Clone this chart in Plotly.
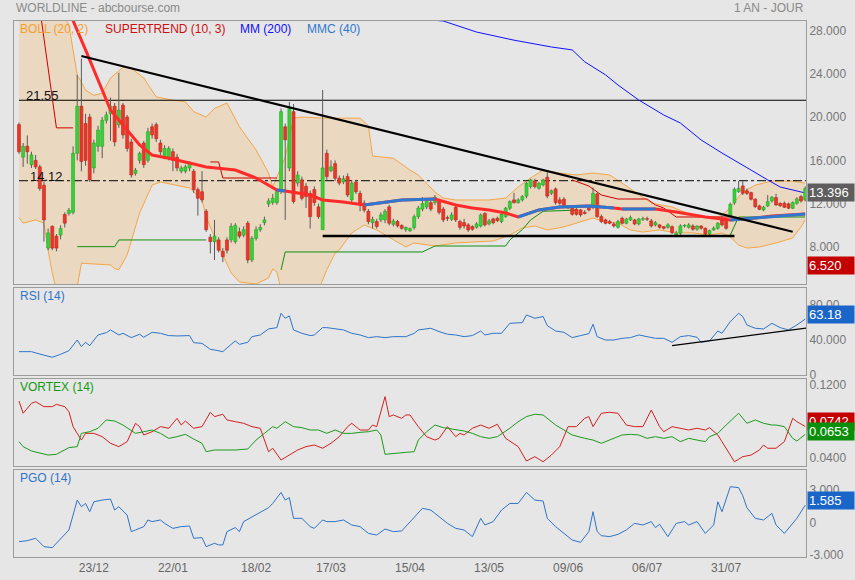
import plotly.graph_objects as go
from plotly.subplots import make_subplots

# daily candles
opens = [
    19.3, 16.3, 17.3, 15.6, 16.0, 15.4, 13.7, 7.9, 9.9, 9.0,
    9.1, 11.0, 11.1, 11.2, 16.65, 21.0, 19.4, 20.0, 15.3, 17.3,
    17.3, 19.7, 20.3, 21.0, 19.3, 21.1, 20.0, 17.7, 14.8, 16.0,
    17.6, 16.0, 19.1, 19.3, 17.6, 16.3, 16.3, 16.8, 16.3, 15.0,
    15.0, 15.3, 15.0, 13.3, 13.1, 11.3, 8.9,
    8.5, 8.65, 7.6, 8.65, 8.65, 8.5, 9.4, 9.1, 10.2, 6.8,
    8.8, 9.6, 10.25, 11.97, 12.1, 12.1, 13.1, 19.1, 15.3, 20.5,
    13.9, 14.2, 13.6, 12.95, 13.3, 11.7, 9.6, 16.65, 15.05, 15.7,
    14.35, 14.0, 14.5, 12.35, 14.0, 12.95, 12.05, 11.3, 10.25, 10.35,
    10.5, 10.5, 11.7, 10.1, 10.35, 9.98, 9.6, 9.5, 9.8,
    10.8, 11.5, 11.7, 12.1, 12.1, 12.2, 11.5, 10.7, 10.56, 11.67,
    10.35, 10.25, 10.04, 9.88, 9.82, 9.94, 11.1, 10.13, 10.59, 10.65,
    10.35, 10.81, 11.58, 12.35, 12.1, 12.35, 12.7, 13.58, 14.1, 13.42,
    13.73, 14.44, 12.96, 13.36, 12.35, 12.41, 11.6, 11.58, 11.48, 11.42,
    11.2, 11.58, 11.67, 12.9, 10.81, 10.5,
    10.35, 10.13, 9.82, 10.65, 10.19, 10.5, 10.5, 10.13, 10.56, 10.6,
    10.41, 10.04, 10.04, 9.88, 9.82, 9.88, 9.12, 9.27, 9.94, 9.82,
    9.94, 9.64, 9.94, 9.73, 9.21, 9.58, 9.73, 10.5, 10.5, 10.81,
    12.1, 13.11, 13.64, 13.18, 13.02, 12.41, 11.79, 11.42, 11.79, 12.25,
    12.56, 12.04, 12.04, 11.98, 11.58, 12.04, 12.65, 12.35,
]
closes = [
    16.8, 17.3, 16.8, 16.5, 15.4, 13.4, 10.5, 9.3, 7.9, 7.9,
    9.7, 10.2, 11.4, 16.65, 21.0, 15.9, 16.0, 14.2, 17.6, 18.8,
    19.7, 20.2, 21.0, 17.7, 20.65, 18.35, 17.1, 14.65, 15.1, 16.65,
    15.6, 18.65, 18.35, 18.0, 16.8, 17.1, 17.1, 16.0, 15.3, 15.3,
    15.4, 15.7, 13.3, 12.5, 12.35, 9.6, 8.5,
    9.0, 7.7, 7.1, 7.7, 9.9, 10.0, 9.0, 9.6, 6.8, 8.8,
    9.6, 9.8, 10.5, 12.25, 12.5, 13.1, 20.5, 17.9, 20.8, 12.2,
    14.65, 12.5, 12.65, 10.8, 12.1, 10.8, 15.3, 14.5, 15.4, 14.35,
    13.9, 14.3, 12.8, 13.9, 13.1, 12.05, 11.4, 10.35, 10.55, 9.9,
    10.96, 11.3, 10.2, 10.4, 9.95, 9.73, 9.8, 9.7, 10.8,
    11.6, 12.0, 12.3, 11.5, 12.6, 11.2, 10.5, 10.65, 10.96, 10.5,
    9.82, 9.94, 9.58, 9.64, 10.13, 10.96, 10.04, 10.41, 10.25, 10.44,
    11.02, 11.58, 12.19, 12.1, 12.35, 12.65, 13.88, 14.19, 13.58, 13.88,
    14.19, 12.7, 13.2, 12.1, 12.04, 11.79, 11.67, 11.02, 11.02, 10.96,
    11.1, 11.42, 12.96, 10.81, 10.35, 10.19,
    10.19, 9.94, 10.35, 10.19, 10.56, 10.71, 10.13, 10.59, 10.6, 10.56,
    9.94, 10.25, 9.82, 9.73, 10.04, 9.33, 9.27, 9.94, 9.96, 10.04,
    9.64, 9.94, 9.73, 9.21, 9.52, 9.73, 10.19, 10.04, 9.73, 11.95,
    13.33, 13.42, 12.96, 12.96, 12.41, 11.73, 11.48, 11.67, 12.19, 12.59,
    11.88, 11.82, 11.67, 11.58, 12.1, 12.44, 12.25, 13.396,
]
highs = [
    19.5, 17.6, 18.3, 16.8, 16.5, 15.6, 14.0, 9.7, 10.0, 9.2,
    10.0, 11.2, 11.6, 17.3, 23.9, 25.4, 20.3, 20.3, 17.9, 19.2,
    20.0, 20.5, 21.8, 21.3, 24.1, 21.3, 20.2, 18.0, 15.3, 16.8,
    17.8, 19.0, 19.4, 19.5, 17.9, 17.4, 17.3, 17.1, 16.6, 15.5,
    15.6, 15.9, 15.2, 13.5, 15.0, 11.5, 9.2,
    10.5, 8.9, 7.9, 8.9, 10.2, 10.2, 9.8, 9.9, 10.4, 9.0,
    9.9, 10.1, 10.8, 12.5, 12.9, 13.4, 20.8, 19.4, 21.4, 21.2,
    15.0, 14.5, 13.9, 13.2, 13.6, 12.0, 22.5, 17.0, 16.0, 16.0,
    14.6, 14.6, 14.8, 14.2, 14.2, 13.2, 12.3, 11.5, 10.8, 10.6,
    11.2, 11.5, 11.9, 10.6, 10.5, 10.1, 9.9, 9.8, 11.0,
    11.8, 12.6, 12.5, 12.3, 12.8, 12.4, 11.7, 10.9, 11.2, 11.9,
    10.5, 10.6, 10.2, 10.0, 10.3, 11.1, 11.2, 10.6, 10.7, 10.8,
    11.2, 11.7, 12.3, 13.0, 12.5, 12.8, 14.0, 14.3, 14.3, 14.0,
    14.3, 14.9, 13.3, 13.5, 12.6, 12.6, 11.8, 11.7, 11.6, 11.5,
    11.4, 11.7, 13.5, 13.0, 11.0, 10.6,
    10.5, 10.3, 10.5, 10.8, 10.7, 10.9, 10.6, 10.7, 10.8, 10.8,
    10.6, 10.4, 10.1, 9.9, 10.2, 10.0, 9.5, 10.1, 10.1, 10.2,
    10.1, 10.0, 10.0, 9.8, 9.6, 9.9, 10.3, 10.9, 10.6, 12.1,
    13.5, 14.1, 14.1, 13.4, 13.1, 12.5, 11.9, 11.8, 12.8, 12.7,
    12.9, 12.1, 12.2, 12.1, 12.2, 12.6, 12.8, 13.6,
]
lows = [
    16.6, 15.4, 15.7, 15.3, 15.2, 13.2, 8.5, 7.7, 7.7, 7.6,
    8.7, 9.8, 10.9, 11.0, 16.0, 15.0, 15.5, 14.0, 14.8, 16.8,
    16.2, 19.4, 17.8, 17.3, 19.0, 18.0, 16.8, 14.4, 14.6, 15.7,
    15.3, 15.8, 18.0, 17.7, 16.5, 16.1, 16.0, 15.0, 15.0, 14.8,
    14.8, 15.0, 13.0, 10.9, 12.1, 9.4, 7.4,
    6.8, 7.5, 6.6, 7.4, 8.4, 8.3, 8.8, 8.9, 6.5, 6.6,
    8.6, 9.4, 10.0, 11.7, 11.9, 11.9, 12.9, 10.5, 15.0, 12.0,
    13.6, 12.3, 11.6, 9.7, 11.8, 10.6, 9.6, 14.2, 14.9, 14.1,
    13.7, 13.8, 12.6, 12.1, 12.9, 11.3, 11.2, 10.1, 9.7, 9.7,
    10.3, 10.2, 10.0, 9.9, 9.8, 9.6, 9.4, 9.4, 9.6,
    10.6, 11.3, 11.5, 11.3, 11.9, 11.0, 10.3, 10.4, 10.4, 10.3,
    9.6, 9.7, 9.4, 9.5, 9.7, 9.8, 9.9, 10.0, 10.1, 10.3,
    10.2, 10.7, 11.4, 12.0, 12.0, 12.2, 12.5, 13.4, 13.4, 13.3,
    13.6, 12.5, 12.8, 11.9, 11.9, 11.6, 11.5, 10.9, 10.9, 10.8,
    11.0, 11.3, 11.5, 10.7, 10.2, 10.1,
    10.1, 9.8, 9.7, 10.1, 10.1, 10.4, 10.0, 10.0, 10.4, 10.4,
    9.8, 9.9, 9.7, 9.6, 9.7, 9.2, 8.9, 9.1, 9.8, 9.7,
    9.5, 9.5, 9.6, 9.1, 9.1, 9.5, 9.6, 9.9, 9.6, 10.7,
    11.9, 13.0, 12.8, 12.8, 12.3, 11.6, 11.4, 11.3, 11.7, 12.1,
    11.8, 11.7, 11.6, 11.5, 11.5, 11.9, 12.1, 12.2,
]

tick_pos = [18, 37, 57, 75, 94, 113, 132, 151, 170]
tick_labels = ["23/12", "22/01", "18/02", "17/03", "15/04", "13/05", "09/06", "06/07", "31/07"]

# Bollinger (20, 2)
boll_up_x = [0, 10, 12, 14, 16, 18, 20, 22, 25, 27, 30, 33, 37, 40, 42, 45, 47, 50, 53, 57,
             60, 61, 64, 66, 68, 73, 82, 84, 85, 90, 94, 96, 100, 102, 105, 113, 117, 120, 123,
             126, 130, 134, 138, 142, 145, 148, 152, 157, 163, 168, 170, 172, 174, 177, 181, 186, 189]
boll_up_y = [33.0, 30.0, 28.5, 23.9, 22.5, 22.0, 22.2, 23.6, 24.6, 24.5, 23.6, 21.85, 21.57, 21.4,
             20.5, 20.0, 20.8, 21.3, 19.1, 16.96, 14.83, 13.54, 16.3, 19.9, 20.0, 19.9, 19.9, 19.2,
             16.4, 16.2, 15.1, 14.65, 13.08, 12.52, 12.34, 12.34, 12.52, 13.54, 14.37, 15.1, 14.83,
             14.65, 14.83, 14.65, 13.9, 13.08, 12.06, 11.69, 10.77, 10.77, 11.23, 12.16, 13.08,
             13.72, 14.09, 14.09, 13.9]
boll_lo_x = [0, 1, 4, 6, 7, 8, 9, 11, 14, 15, 22, 23, 24, 25, 26, 29, 32, 34, 38, 41, 44, 45, 48,
             49, 51, 53, 57, 60, 61, 62, 63, 68, 72, 74, 76, 77, 80, 83, 86, 90, 93, 95, 100, 105,
             109, 114, 118, 121, 124, 127, 131, 135, 138, 141, 144, 147, 150, 154, 158, 162, 166,
             169, 171, 173, 175, 178, 182, 186, 188, 189]
boll_lo_y = [10.7, 10.2, 10.5, 10.2, 7.72, 5.6, 4.0, 3.5, 4.3, 6.5, 6.34, 6.0, 5.9, 6.6, 7.26, 11.14,
             13.72, 14.0, 13.72, 13.45, 12.34, 10.77, 8.0, 7.26, 5.6, 4.77, 4.58, 5.14, 5.97, 5.7,
             4.0, 3.5, 4.0, 5.9, 7.45, 7.72, 9.3, 10.03, 9.57, 8.65, 8.0, 8.37, 8.09, 8.37, 8.46,
             8.55, 9.1, 9.75, 9.94, 9.57, 9.85, 10.3, 10.68, 10.3, 10.2, 9.57, 9.38, 9.57, 9.3, 9.3,
             9.1, 9.3, 8.92, 8.18, 7.9, 8.0, 8.37, 8.83, 9.85, 10.5]

# MM (200)
mm200_x = [93, 99, 102, 110, 119, 128, 133, 136, 141, 144, 149, 155, 159, 164, 169, 172, 176, 180, 183, 189]
mm200_y = [29.4, 28.96, 28.87, 27.85, 27.1, 26.47, 26.2, 25.1, 23.9, 22.96, 21.57, 20.19, 19.45,
           17.88, 16.68, 16.03, 15.1, 14.19, 13.54, 12.99]

# MMC (40), drawn red when falling, blue when rising
mmc_x = [11, 13, 16, 19, 22, 25, 29, 32, 36, 41, 45, 52, 57, 62, 64, 70, 73, 78, 83, 92, 100, 105,
         109, 113, 117, 120, 125, 130, 137, 143, 145, 153, 158, 165, 171, 177, 181, 189]
mmc_y = [30.5, 28.9, 26.2, 23.4, 20.65, 19.26, 17.42, 16.49, 16.2, 15.76, 15.39, 15.11, 14.37, 13.26,
         13.17, 12.8, 12.34, 12.16, 11.88, 12.34, 12.43, 11.88, 11.6, 11.42, 11.14, 10.77, 11.42,
         11.7, 11.79, 11.6, 11.5, 11.5, 11.23, 10.77, 10.49, 10.68, 10.86, 11.05]
mmc_rising = [(62, 64), (83, 100), (120, 143), (145, 153), (171, 189)]

# SUPERTREND (10, 3)
st_down_x = [4, 6, 9, 13, None, 46, 48, 49, 62, None, 133, 137, 140, 144, 151, 153, 155, 158, 171]
st_down_y = [32.8, 27.3, 19.0, 19.0, None, 15.85, 15.85, 14.37, 14.37, None, 14.19, 13.63, 12.8,
             12.43, 12.43, 11.88, 11.6, 10.77, 10.77]
st_up_x = [14, 23, 24, 45, None, 63, 64, 97, 100, 117, 118, 121, 123, 126, 134, None, 171, 173, 189]
st_up_y = [8.03, 8.03, 8.65, 8.65, None, 5.88, 7.54, 7.54, 8.09, 8.09, 8.65, 9.6, 10.5, 11.3, 11.4,
           None, 9.1, 10.77, 10.77]

level_high = 21.55
level_low = 14.12
resist_x = [15, 186]
resist_y = [25.64, 9.41]
support_x = [73, 172]
support_y = [9.02, 9.02]

# RSI (14)
rsi_x = [0, 3, 5, 8, 10, 12, 14, 15, 16, 17, 19, 21, 22, 24, 25, 27, 29, 30, 32, 34, 36, 38, 41, 42,
         44, 46, 47, 49, 51, 52, 53, 55, 56, 58, 60, 62, 63, 64, 65, 66, 68, 70, 71, 73, 74, 76, 78,
         80, 82, 84, 86, 88, 90, 93, 95, 96, 99, 101, 103, 105, 107, 109, 111, 112, 114, 116, 118,
         121, 122, 124, 126, 127, 129, 131, 133, 135, 137, 138, 139, 141, 143, 145, 147, 149, 151,
         153, 155, 157, 159, 161, 163, 164, 166, 168, 169, 171, 173, 174, 175, 177, 179, 181, 183,
         185, 187, 188, 189]
rsi_y = [26.4, 26.4, 23.7, 20.0, 23.4, 27.5, 39.6, 32.1, 37.0, 33.2, 45.3, 47.9, 51.0, 45.3, 47.2,
         42.3, 46.1, 42.7, 48.3, 47.2, 44.6, 44.2, 44.6, 36.6, 35.8, 29.0, 28.3, 26.4, 34.7, 38.5,
         34.7, 37.0, 43.4, 45.3, 52.1, 53.6, 69.9, 64.2, 66.9, 51.0, 47.2, 44.6, 45.3, 53.6, 53.6,
         52.1, 51.0, 47.2, 45.3, 42.3, 43.4, 42.3, 43.4, 43.4, 47.2, 51.0, 52.9, 49.1, 46.1, 45.3,
         43.4, 44.6, 49.8, 45.3, 47.2, 47.2, 58.5, 59.3, 68.0, 64.2, 66.2, 55.9, 49.8, 48.3, 42.3,
         44.6, 46.8, 57.4, 43.4, 39.6, 39.6, 41.5, 42.3, 45.3, 43.4, 41.5, 41.5, 37.0, 43.4, 44.6,
         42.7, 37.0, 38.5, 49.8, 47.2, 60.4, 69.9, 66.2, 56.6, 52.9, 52.1, 58.5, 53.6, 51.0, 56.6,
         60.0, 63.18]
rsi_trend_x = [157, 190]
rsi_trend_y = [33.2, 53.6]

# VORTEX (14)
vi_minus_x = [0, 1, 3, 4, 6, 8, 9, 11, 12, 13, 15, 16, 18, 20, 22, 24, 26, 28, 29, 30, 32, 34, 36,
              38, 39, 40, 42, 44, 46, 47, 49, 50, 52, 54, 56, 58, 60, 61, 63, 65, 67, 69, 71, 73,
              75, 77, 79, 80, 82, 84, 85, 86, 88, 89, 90, 92, 93, 94, 96, 98, 100, 101, 103, 105,
              106, 107, 109, 111, 113, 115, 117, 120, 122, 124, 126, 128, 130, 132, 134, 136, 137,
              138, 140, 142, 144, 146, 148, 150, 152, 154, 155, 157, 159, 161, 163, 165, 166, 168,
              169, 171, 172, 174, 176, 178, 179, 180, 182, 184, 186, 187, 189]
vi_minus_y = [0.1022, 0.0887, 0.0997, 0.1015, 0.0960, 0.0960, 0.0986, 0.0960, 0.0905, 0.0739,
              0.0591, 0.0665, 0.0665, 0.0628, 0.0555, 0.0518, 0.0573, 0.0776, 0.0739, 0.0647,
              0.0683, 0.0739, 0.0721, 0.0831, 0.0757, 0.0801, 0.0721, 0.0739, 0.0898, 0.0850,
              0.0876, 0.0813, 0.0794, 0.0776, 0.0739, 0.0721, 0.0462, 0.0500, 0.0370, 0.0425,
              0.0481, 0.0518, 0.0536, 0.0500, 0.0555, 0.0628, 0.0739, 0.0776, 0.0702, 0.0702,
              0.0757, 0.0739, 0.1071, 0.0850, 0.0868, 0.0831, 0.0868, 0.0868, 0.0739, 0.0628,
              0.0591, 0.0610, 0.0739, 0.0628, 0.0665, 0.0647, 0.0721, 0.0757, 0.0721, 0.0765,
              0.0610, 0.0518, 0.0359, 0.0407, 0.0351, 0.0425, 0.0518, 0.0739, 0.0739, 0.0831,
              0.0850, 0.0739, 0.0887, 0.0898, 0.0887, 0.0757, 0.0739, 0.0739, 0.0923, 0.0739,
              0.0683, 0.0739, 0.0721, 0.0702, 0.0721, 0.0702, 0.0728, 0.0647, 0.0573, 0.0425,
              0.0351, 0.0407, 0.0425, 0.0481, 0.0536, 0.0500, 0.0500, 0.0573, 0.0831, 0.0794,
              0.0742]
vi_plus_x = [0, 1, 3, 5, 7, 9, 11, 12, 14, 15, 17, 19, 21, 23, 25, 28, 30, 32, 34, 36, 38, 40, 42,
             44, 45, 47, 49, 52, 55, 57, 59, 61, 62, 64, 66, 68, 70, 72, 74, 76, 78, 80, 82, 84, 86,
             87, 88, 90, 93, 95, 96, 98, 100, 102, 105, 107, 109, 111, 113, 115, 118, 120, 122, 124,
             126, 127, 129, 131, 133, 136, 138, 140, 141, 143, 145, 147, 149, 151, 153, 155, 157,
             159, 161, 163, 165, 166, 168, 170, 173, 175, 177, 179, 181, 182, 184, 186, 187, 189]
vi_plus_y = [0.0573, 0.0518, 0.0470, 0.0444, 0.0425, 0.0433, 0.0481, 0.0507, 0.0518, 0.0665, 0.0683,
             0.0721, 0.0813, 0.0801, 0.0757, 0.0665, 0.0683, 0.0702, 0.0665, 0.0610, 0.0628, 0.0654,
             0.0602, 0.0555, 0.0462, 0.0481, 0.0481, 0.0481, 0.0492, 0.0591, 0.0665, 0.0739, 0.0721,
             0.0794, 0.0739, 0.0728, 0.0702, 0.0702, 0.0665, 0.0702, 0.0665, 0.0665, 0.0676, 0.0683,
             0.0702, 0.0647, 0.0433, 0.0444, 0.0455, 0.0462, 0.0591, 0.0683, 0.0757, 0.0728, 0.0702,
             0.0691, 0.0665, 0.0628, 0.0610, 0.0628, 0.0721, 0.0794, 0.0850, 0.0876, 0.0868, 0.0831,
             0.0757, 0.0702, 0.0647, 0.0610, 0.0591, 0.0555, 0.0573, 0.0610, 0.0647, 0.0654, 0.0647,
             0.0610, 0.0628, 0.0610, 0.0628, 0.0573, 0.0610, 0.0591, 0.0573, 0.0628, 0.0665, 0.0757,
             0.0887, 0.0776, 0.0813, 0.0776, 0.0757, 0.0757, 0.0739, 0.0610, 0.0580, 0.0653]

# PGO (14)
pgo_x = [0, 2, 4, 6, 8, 10, 12, 13, 14, 15, 16, 17, 18, 20, 22, 23, 24, 26, 27, 28, 30, 31, 32, 34,
         35, 37, 39, 41, 42, 44, 45, 47, 48, 49, 50, 52, 53, 54, 56, 58, 60, 61, 63, 64, 65, 66, 68,
         70, 71, 73, 74, 76, 78, 80, 82, 84, 86, 88, 90, 92, 95, 97, 99, 101, 103, 105, 107, 109,
         111, 112, 114, 116, 118, 120, 122, 124, 126, 127, 129, 131, 133, 135, 137, 138, 139, 140,
         142, 144, 146, 148, 150, 152, 153, 154, 156, 158, 160, 161, 163, 165, 167, 168, 169, 171,
         173, 174, 175, 177, 179, 181, 182, 184, 186, 187, 189]
pgo_y = [-1.76, -1.67, -1.45, -2.22, -2.31, -1.45, -0.69, 0.68, 2.06, 1.45, 1.75, 0.99, 1.9, 2.06,
         2.15, 1.14, 1.45, 0.68, -0.84, -0.69, -0.38, 0.23, 0.08, 0.23, -0.08, -0.54, -0.38, -0.32,
         -1.45, -1.39, -2.22, -1.91, -2.06, -2.06, -0.84, -0.47, -0.84, 0.08, 0.53, 0.99, 1.36,
         1.75, 2.76, 2.06, 2.28, 0.38, 0.38, -0.38, -0.54, 0.23, 0.08, 0.08, 0.23, -0.23, -0.38,
         -1.0, -1.15, -0.6, -0.84, -0.78, 0.53, 1.3, 1.14, 0.53, -0.08, -0.54, -0.69, -1.3, 0.38,
         -0.23, 0.08, 1.14, 1.75, 1.75, 2.76, 2.06, 1.97, 0.38, -0.38, -1.0, -1.61, -1.82, -0.84,
         0.99, -0.84, -1.21, -1.3, -1.09, -0.69, -0.08, -0.23, 0.08, -0.47, -0.17, -1.3, -0.08,
         0.08, -0.23, 0.08, -1.0, -0.23, 1.9, 0.99, 3.29, 3.2, 2.46, 1.36, 0.38, 0.23, 0.84, -0.23,
         -1.0, -0.08, 0.38, 1.585]

last_price = 13.396
marker_low = 6.52

FONT = "Liberation Sans, Arial, sans-serif"
GREY_TXT = "#777777"
BG = "#e6e6e6"
N = len(closes)
MAIN_RANGE = [4.58, 28.87]

fig = make_subplots(rows=4, cols=1, shared_xaxes=True, vertical_spacing=0.0)

# bollinger band area
fig.add_trace(go.Scatter(x=boll_lo_x, y=boll_lo_y, mode="lines",
                         line=dict(color="#f4a647", width=1)), row=1, col=1)
fig.add_trace(go.Scatter(x=boll_up_x, y=boll_up_y, mode="lines", fill="tonexty",
                         fillcolor="#ead8c0", line=dict(color="#f4a647", width=1)), row=1, col=1)

# horizontal levels
fig.add_trace(go.Scatter(x=[0, N - 0.8], y=[level_high, level_high], mode="lines",
                         line=dict(color="black", width=1)), row=1, col=1)
fig.add_trace(go.Scatter(x=[0, N - 0.8], y=[level_low, level_low], mode="lines",
                         line=dict(color="black", width=1, dash="dashdot")), row=1, col=1)

# MM200 and supertrend
fig.add_trace(go.Scatter(x=mm200_x, y=mm200_y, mode="lines",
                         line=dict(color="#1010ff", width=1)), row=1, col=1)
fig.add_trace(go.Scatter(x=st_down_x, y=st_down_y, mode="lines", connectgaps=False,
                         line=dict(color="#cc0000", width=1)), row=1, col=1)
fig.add_trace(go.Scatter(x=st_up_x, y=st_up_y, mode="lines", connectgaps=False,
                         line=dict(color="#109010", width=1)), row=1, col=1)

# candle wicks
wick_x, wick_y = [], []
for i in range(N):
    wick_x += [i, i, None]
    wick_y += [lows[i], highs[i], None]
fig.add_trace(go.Scatter(x=wick_x, y=wick_y, mode="lines",
                         line=dict(color="#5a5a5a", width=1)), row=1, col=1)

# candle bodies go on an overlaying axis so they sit above the band fill
up = [c >= o for o, c in zip(opens, closes)]
fig.add_trace(go.Bar(
    x=list(range(N)),
    y=[max(abs(c - o), 0.06) for o, c in zip(opens, closes)],
    base=[min(o, c) for o, c in zip(opens, closes)],
    width=0.72,
    marker=dict(color=["#3ad03a" if u else "#e8382a" for u in up],
                line=dict(color=["#23a823" if u else "#c0241a" for u in up], width=0.6)),
    hoverinfo="skip", xaxis="x", yaxis="y5"))

# MMC(40) thick line: red, with rising stretches in blue
fig.add_trace(go.Scatter(x=mmc_x, y=mmc_y, mode="lines", xaxis="x", yaxis="y5",
                         line=dict(color="#ff2a2a", width=3)))
bx, by = [], []
for a, b in mmc_rising:
    for xv, yv in zip(mmc_x, mmc_y):
        if a <= xv <= b:
            bx.append(xv)
            by.append(yv)
    bx.append(None)
    by.append(None)
fig.add_trace(go.Scatter(x=bx, y=by, mode="lines", connectgaps=False, xaxis="x", yaxis="y5",
                         line=dict(color="#2f78d0", width=3)))

# trend lines
fig.add_trace(go.Scatter(x=resist_x, y=resist_y, mode="lines", xaxis="x", yaxis="y5",
                         line=dict(color="black", width=2)))
fig.add_trace(go.Scatter(x=support_x, y=support_y, mode="lines", xaxis="x", yaxis="y5",
                         line=dict(color="black", width=2.5)))

# RSI panel
fig.add_hrect(y0=70, y1=100, row=2, col=1, fillcolor="#e8c1c1", line_width=0, layer="below")
fig.add_hrect(y0=0, y1=30, row=2, col=1, fillcolor="#c3d8c3", line_width=0, layer="below")
fig.add_hline(y=70, row=2, col=1, line=dict(color="#e06a6a", width=1))
fig.add_hline(y=30, row=2, col=1, line=dict(color="#5e9e5e", width=1))
fig.add_hline(y=50, row=2, col=1, line=dict(color="#a9cdf0", width=1))
fig.add_trace(go.Scatter(x=rsi_x, y=rsi_y, mode="lines",
                         line=dict(color="#2f74c8", width=1)), row=2, col=1)
fig.add_trace(go.Scatter(x=rsi_trend_x, y=rsi_trend_y, mode="lines",
                         line=dict(color="black", width=1.3)), row=2, col=1)

# VORTEX panel
fig.add_trace(go.Scatter(x=vi_minus_x, y=vi_minus_y, mode="lines",
                         line=dict(color="#d42020", width=1)), row=3, col=1)
fig.add_trace(go.Scatter(x=vi_plus_x, y=vi_plus_y, mode="lines",
                         line=dict(color="#1c9a1c", width=1)), row=3, col=1)

# PGO panel
fig.add_hrect(y0=2, y1=6, row=4, col=1, fillcolor="#e8c1c1", line_width=0, layer="below")
fig.add_hrect(y0=-4, y1=-2, row=4, col=1, fillcolor="#c3d8c3", line_width=0, layer="below")
fig.add_hline(y=2, row=4, col=1, line=dict(color="#e06a6a", width=1))
fig.add_hline(y=-2, row=4, col=1, line=dict(color="#5e9e5e", width=1))
fig.add_trace(go.Scatter(x=pgo_x, y=pgo_y, mode="lines",
                         line=dict(color="#2f74c8", width=1)), row=4, col=1)

axis_common = dict(showgrid=False, zeroline=False, showline=True, mirror=True,
                   linecolor="#9c9c9c", linewidth=1, automargin=False)
fig.update_xaxes(range=[-1.2, N - 0.8], showticklabels=False, ticks="",
                 rangeslider_visible=False, **axis_common)
fig.update_xaxes(showticklabels=True, tickmode="array", tickvals=tick_pos, ticktext=tick_labels,
                 tickfont=dict(family=FONT, size=12, color="#666666"), row=4, col=1)

yfont = dict(family=FONT, size=12, color=GREY_TXT)
fig.update_layout(
    width=855, height=580,
    margin=dict(l=14, r=49, t=21, b=23, autoexpand=False),
    paper_bgcolor=BG, plot_bgcolor=BG,
    showlegend=False, barmode="overlay",
    font=dict(family=FONT),
    yaxis=dict(domain=[0.5093, 1.0], range=MAIN_RANGE, side="right",
               tickvals=[8, 12, 16, 20, 24, 28],
               ticktext=["8.000", "12.000", "16.000", "20.000", "24.000", "28.000"],
               tickfont=yfont, ticks="", **axis_common),
    yaxis2=dict(domain=[0.3396, 0.5019], range=[0, 98.5], side="right",
                tickvals=[0, 40, 80], ticktext=["0", "40.000", "80.00"],
                tickfont=yfont, ticks="", **axis_common),
    yaxis3=dict(domain=[0.1698, 0.3321], range=[0.0304, 0.1266], side="right",
                tickvals=[0.04, 0.12], ticktext=["0.0400", "0.1200"],
                tickfont=yfont, ticks="", **axis_common),
    yaxis4=dict(domain=[0.0, 0.1623], range=[-3.17, 4.82], side="right",
                tickvals=[-3, 0, 3], ticktext=["-3.000", "0", "3.000"],
                tickfont=yfont, ticks="", **axis_common),
    yaxis5=dict(overlaying="y", anchor="x", range=MAIN_RANGE, visible=False,
                showgrid=False, zeroline=False),
)

def note(text, x, y, color, size=12, xref="paper", yref="paper", xanchor="left",
         yanchor="middle", yshift=0, xshift=0, **kw):
    fig.add_annotation(text=text, x=x, y=y, xref=xref, yref=yref, xanchor=xanchor,
                       yanchor=yanchor, yshift=yshift, xshift=xshift, showarrow=False,
                       font=dict(family=FONT, size=size, color=color), **kw)

# header
note("WORLDLINE - abcbourse.com", 0, 1, "#8a8a8a", size=12, yshift=13)
note("1 AN - JOUR", 1, 1, "#8a8a8a", size=12, xanchor="right", yshift=13)

# indicator captions
note("BOLL (20, 2)", 0.005, 1, "#f4a030", yshift=-8)
note("SUPERTREND (10, 3)", 0.1124, 1, "#cc1010", yshift=-8)
note("MM (200)", 0.2828, 1, "#1010ff", yshift=-8)
note("MMC (40)", 0.3674, 1, "#2f78d0", yshift=-8)
note("RSI (14)", 0.005, 1, "#2f74c8", yref="y2 domain", yshift=-8)
note("VORTEX (14)", 0.005, 1, "#139a13", yref="y3 domain", yshift=-8)
note("PGO (14)", 0.005, 1, "#2f74c8", yref="y4 domain", yshift=-8)

# level labels
note(f"{level_high:.2f}", 1.2, level_high, "#111111", size=13, xref="x", yref="y",
     yanchor="bottom", yshift=-5)
note(f"{level_low:.2f}", 2.2, level_low, "#111111", size=13, xref="x", yref="y",
     yanchor="bottom", yshift=-5)

# value boxes on the right
def value_box(text, y, yref, bg):
    fig.add_annotation(text=text, x=1, y=y, xref="paper", yref=yref, xanchor="left",
                       yanchor="middle", xshift=1, showarrow=False, bgcolor=bg,
                       width=44, height=15, borderpad=1, align="left",
                       font=dict(family=FONT, size=13, color="white"))

value_box(f"{last_price:.3f}", 13.05, "y", "#5e5e5e")
value_box(f"{marker_low:.3f}", 6.3, "y", "#c40000")
value_box(f"{rsi_y[-1]:.2f}", 68, "y2", "#1a66c8")
value_box(f"{vi_minus_y[-1]:.4f}", 0.0800, "y3", "#c40000")
value_box(f"{vi_plus_y[-1]:.4f}", 0.0690, "y3", "#0b8f0b")
value_box(f"{pgo_y[-1]:.3f}", 2.06, "y4", "#1a66c8")

fig.write_html("out.html", config={"displayModeBar": False},
               post_script="document.body.style.margin='0';")
